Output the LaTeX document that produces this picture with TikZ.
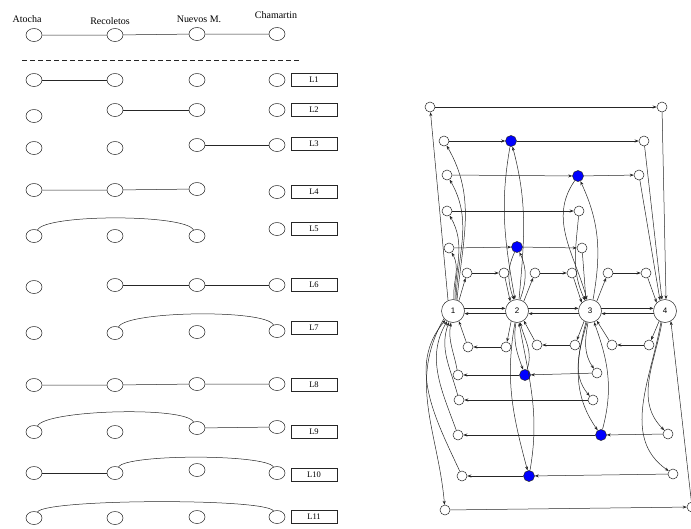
\documentclass[tikz,border=0pt]{standalone}
\usepackage{fontspec}
\setmainfont{Liberation Serif}
\setsansfont{Liberation Sans}
\usetikzlibrary{arrows.meta,shapes.geometric}

\tikzset{
  stn/.style={ellipse,draw,minimum width=16pt,minimum height=13pt,inner sep=0pt},
  lbox/.style={rectangle,draw,minimum width=46pt,minimum height=13pt,inner sep=0pt,font=\fontsize{8.5}{9}\selectfont},
  big/.style={circle,draw,fill=white,minimum size=23pt,inner sep=0pt,font=\sffamily\fontsize{8}{9}\selectfont},
  wn/.style={circle,draw,fill=white,minimum size=10pt,inner sep=0pt},
  bn/.style={circle,draw,fill=blue,minimum size=11pt,inner sep=0pt},
}

\begin{document}
\begin{tikzpicture}[x=1pt,y=-1pt,line width=0.5pt,draw=black!85,>={Stealth[length=4pt,width=3pt]}]
\useasboundingbox (0,0) rectangle (691,528);

% stations and lines
\node[anchor=base,font=\fontsize{10}{12}\selectfont] (tA) at (27,22) {Atocha};
\node[anchor=base,font=\fontsize{10}{12}\selectfont] (tR) at (110,24) {Recoletos};
\node[anchor=base,font=\fontsize{10}{12}\selectfont] (tN) at (199,22) {Nuevos M.};
\node[anchor=base,font=\fontsize{10}{12}\selectfont] (tC) at (276,18) {Chamartin};

\foreach \r/\ya/\yr/\yn/\yc in {0/35/35/34/34,1/80/80/80/80,2/116/110/110/110,3/148/148/145/145,
    4/190/190/189/192,5/236/236/236/229,6/287/285/285/285,7/333/333/332/331,
    8/385/385/384/384,9/432/432/428/427,10/473/473/470/473,11/518/518/517/517}{
  \node[stn] (A\r) at (34,\ya) {};
  \node[stn] (R\r) at (115,\yr) {};
  \node[stn] (N\r) at (197,\yn) {};
  \node[stn] (C\r) at (277,\yc) {};
}
\foreach \r/\y in {1/80,2/110,3/144,4/192,5/229,6/285,7/328,8/385,9/432,10/475,11/517}
  \node[lbox] (L\r) at (314,\y) {L\r};

\draw[dashed,dash pattern=on 5pt off 3pt] (22,60) -- (300,60);

\draw (A0) -- (R0) -- (N0) -- (C0);
\draw (A1) -- (R1);
\draw (R2) -- (N2);
\draw (N3) -- (C3);
\draw (A4) -- (R4) -- (N4);
\draw (A5.60) .. controls +(8,-16) and +(-8,-16) .. (N5.120);
\draw (R6) -- (N6) -- (C6);
\draw (R7.60) .. controls +(8,-16) and +(-8,-16) .. (C7.120);
\draw (A8) -- (R8) -- (N8) -- (C8);
\draw (A9.60) .. controls +(8,-16) and +(-8,-16) .. (N9.120);
\draw (N9) -- (C9);
\draw (A10) -- (R10);
\draw (R10.60) .. controls +(8,-13) and +(-8,-13) .. (C10.120);
\draw (A11.60) .. controls +(8,-13) and +(-8,-13) .. (C11.120);

% network
\node[big] (s1) at (453,311) {1};
\node[big] (s2) at (517,311) {2};
\node[big] (s3) at (590,311) {3};
\node[big] (s4) at (665,311) {4};

\foreach \n/\x/\y in {up1a/430/107, up1b/662/107, up2a/444/141, up2b/644/141, up3a/447/175,
    up3b/639/175, up4a/447/211, up4b/579/211, up5a/449/248, up5b/582/248,
    sh1a/467/273, sh1b/504/273, sh2a/535/273, sh2b/572/273, sh3a/608/273, sh3b/646/273,
    sl1a/468/347, sl1b/506/347, sl2a/537/345, sl2b/575/345, sl3a/612/345, sl3b/649/345,
    dn5a/458/375, dn5b/597/373, dn4a/459/400, dn4b/593/400, dn3a/458/435, dn3b/668/434,
    dn2a/462/476, dn2b/673/474, dn1a/445/510, dn1b/692/507}
  \node[wn] (\n) at (\x,\y) {};
\foreach \n/\x/\y in {up2m/511/141, up3m/578/176, up5m/517/247, dn5m/525/375, dn3m/601/435, dn2m/529/476}
  \node[bn] (\n) at (\x,\y) {};

\foreach \a/\b in {up1a/up1b, up2a/up2m, up2m/up2b, up3a/up3m, up3m/up3b, up4a/up4b,
    up5a/up5m, up5m/up5b, sh1a/sh1b, sh2a/sh2b, sh3a/sh3b, sl1b/sl1a, sl2b/sl2a, sl3b/sl3a,
    dn5b/dn5m, dn5m/dn5a, dn4b/dn4a, dn3b/dn3m, dn3m/dn3a, dn2b/dn2m, dn2m/dn2a, dn1a/dn1b}
  \draw[->] (\a) -- (\b);

\foreach \a/\b in {s1/s2, s2/s3, s3/s4}{
  \draw[->] (\a.13) -- (\b.167);
  \draw[->] (\b.-167) -- (\a.-13);
}

\draw[->] (s1.115) -- (up1a);
\draw[->] (s1.70) to[out=85,in=-60] (up2a);
\draw[->] (s1.75) to[out=88,in=-60] (up3a);
\draw[->] (s1.80) to[out=90,in=-60] (up4a);
\draw[->] (s1.85) to[out=95,in=-60] (up5a);
\draw[->] (s1.60) -- (sh1a);
\draw[->] (up1b) -- (s4.85);
\draw[->] (up2b) -- (s4.105);
\draw[->] (up3b) -- (s4.115);
\draw[->] (sh3b) -- (s4.135);

\draw[->] (up2m) to[out=-100,in=100] (s2.100);
\draw[->] (s2.80) to[out=85,in=-75] (up2m);
\draw[->] (up5m) to[out=-115,in=110] (s2.105);
\draw[->] (s2.75) to[out=70,in=-65] (up5m);
\draw[->] (sh1b) -- (s2.125);
\draw[->] (s2.55) -- (sh2a);

\draw[->] (up3m) to[out=-125,in=105] (s3.105);
\draw[->] (s3.75) to[out=80,in=-65] (up3m);
\draw[->] (up4b) to[out=-95,in=115] (s3.115);
\draw[->] (up5b) -- (s3.110);
\draw[->] (sh2b) -- (s3.135);
\draw[->] (s3.55) -- (sh3a);

\draw[->] (sl1a) -- (s1.-60);
\draw[->] (dn5a) to[out=100,in=-100] (s1.-100);
\draw[->] (dn4a) to[out=105,in=-110] (s1.-110);
\draw[->] (dn3a) to[out=110,in=-120] (s1.-120);
\draw[->] (dn2a) to[out=115,in=-130] (s1.-130);
\draw[->] (s1.-140) to[out=-120,in=95] (dn1a);

\draw[->] (s2.-120) -- (sl1b);
\draw[->] (sl2a) -- (s2.-55);
\draw[->] (s2.-95) to[out=-100,in=110] (dn5m);
\draw[->] (dn5m) to[out=70,in=-75] (s2.-75);
\draw[->] (s2.-100) to[out=-100,in=105] (dn2m);
\draw[->] (dn2m) to[out=80,in=-80] (s2.-80);

\draw[->] (s3.-120) -- (sl2b);
\draw[->] (sl3a) -- (s3.-55);
\draw[->] (s3.-100) to[out=-100,in=125] (dn5b);
\draw[->] (s3.-105) to[out=-105,in=130] (dn4b);
\draw[->] (s3.-110) to[out=-105,in=125] (dn3m);
\draw[->] (dn3m) to[out=75,in=-70] (s3.-70);

\draw[->] (s4.-120) -- (sl3b);
\draw[->] (s4.-105) to[out=-100,in=135] (dn3b);
\draw[->] (s4.-110) to[out=-100,in=145] (dn2b);
\draw[->] (dn1b) -- (s4.-60);
\end{tikzpicture}
\end{document}
